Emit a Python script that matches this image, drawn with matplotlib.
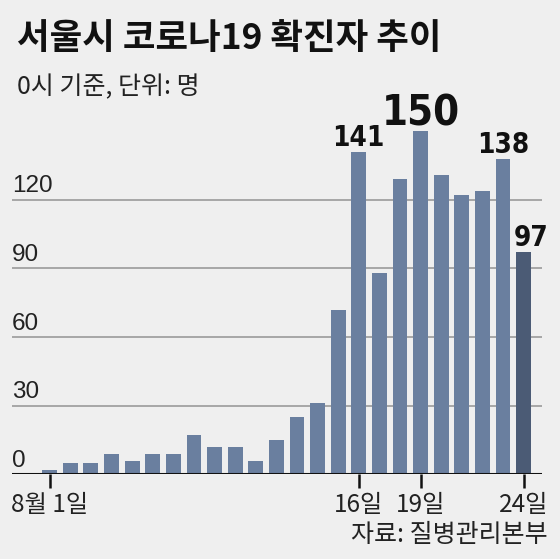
import matplotlib
matplotlib.use("Agg")
import matplotlib.pyplot as plt
from matplotlib import font_manager as fm

days = list(range(1, 25))
cases = [2, 5, 5, 9, 6, 9, 9, 17, 12, 12, 6, 15, 25, 31, 72, 141, 88, 129, 150, 131, 122, 124, 138, 97]
yticks = [0, 30, 60, 90, 120]
xtick_days = [1, 16, 19, 24]
xtick_labels = ["8월 1일", "16일", "19일", "24일"]
labeled = {16: "141", 19: "150", 23: "138", 24: "97"}
label_sizes = {16: 20, 19: 30, 23: 20, 24: 20}


def is_narrow(f):
    s = f.stretch
    if isinstance(s, str):
        if "condensed" in s.lower():
            return True
    else:
        try:
            if float(s) < 500:
                return True
        except Exception:
            pass
    n = (f.name + " " + f.fname).lower()
    return "narrow" in n or "condensed" in n


def is_sans(f):
    n = (f.name + " " + f.fname).lower()
    if "mono" in n or "serif" in f.name.lower():
        return False
    return True


def pick_bold():
    prefs = ["Liberation Sans Narrow", "Roboto", "Open Sans", "Noto Sans", "DejaVu Sans"]
    cands = []
    for f in fm.fontManager.ttflist:
        if not is_narrow(f) or not is_sans(f):
            continue
        w = f.weight if isinstance(f.weight, int) else (700 if "bold" in str(f.weight).lower() else 400)
        if "italic" in f.style or "oblique" in f.style or w < 600:
            continue
        rank = prefs.index(f.name) if f.name in prefs else len(prefs)
        cands.append((rank, abs(w - 700), f.fname))
    if cands:
        cands.sort()
        return fm.FontProperties(fname=cands[0][2])
    return fm.FontProperties(family="Liberation Sans", weight="bold")


fp_bold = pick_bold()
KR = "Noto Sans CJK KR"

bg = "#efefef"
fig = plt.figure(figsize=(5.6, 5.59), dpi=100, facecolor=bg)
W, H = 560, 559
ax = fig.add_axes([12 / W, (H - 474.3) / H, (541.7 - 12) / W, 366 / H])
ax.set_facecolor(bg)

idx = list(range(len(days)))
colors = ["#6a7f9f"] * (len(days) - 1) + ["#4b5b75"]
ax.set_ylim(0, 160)
ax.set_xlim(-1.83, 23.88)
for y in yticks[1:]:
    ax.axhline(y, color="#9a9a9a", lw=1.2, zorder=0)
ax.bar(idx, cases, width=0.72, color=colors, zorder=2)
ax.axhline(0, color="#111111", lw=2.2, zorder=3)

for y in yticks:
    ax.text(-1.83, y + 3.2, str(y), family="Liberation Sans", fontsize=17.5,
            color="#222222", ha="left", va="baseline")

for d, lab in labeled.items():
    i = days.index(d)
    dx = 0.38 if d == 24 else 0
    fp = fp_bold.copy()
    fp.set_size(label_sizes[d])
    ax.text(i + dx, cases[i] + 2.6, lab, fontproperties=fp,
            ha="center", va="baseline", color="#111111")

ax.set_xticks([days.index(d) for d in xtick_days])
ax.set_xticklabels(xtick_labels, family=KR, fontsize=17.5, color="#222222")
ax.tick_params(axis="x", length=10, width=1.8, color="#111111", pad=3)
ax.set_yticks([])
for s in ax.spines.values():
    s.set_visible(False)

fig.text(17 / W, 1 - 38 / H, "서울시 코로나19 확진자 추이", family=KR, fontsize=25.5,
         fontweight="bold", ha="left", va="center", color="#111111")
fig.text(17 / W, 1 - 87 / H, "0시 기준, 단위: 명", family=KR, fontsize=18,
         ha="left", va="center", color="#222222")
fig.text(548 / W, 1 - 535 / H, "자료: 질병관리본부", family=KR, fontsize=18,
         ha="right", va="center", color="#222222")

fig.savefig("out.png", dpi=100, facecolor=bg)
